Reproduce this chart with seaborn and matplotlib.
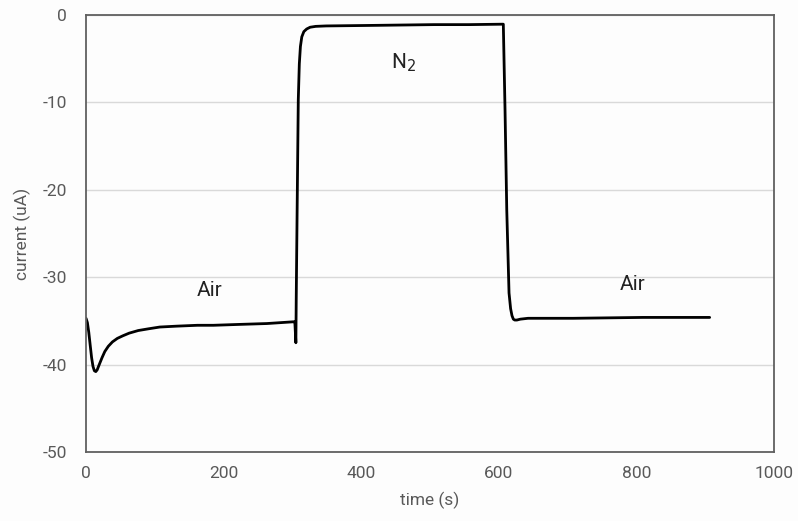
import pandas as pd
import matplotlib
matplotlib.use("Agg")
import matplotlib.pyplot as plt
import seaborn as sns

# values
time_s = [0, 2, 4, 6.1, 8.1, 10.1, 12.1, 14.2, 16.2, 19.2, 23.3, 27.3, 32.4, 38.4, 45.5,
          53.6, 62.7, 75.9, 91, 107.2, 131.5, 161.9, 185.1, 222.6, 263, 301.5, 303.5,
          305, 305.5, 307, 308.5, 310, 311.6, 313.6, 316.6, 320.7, 325.7, 333.8, 349,
          404.6, 455.2, 505.8, 556.4, 606.5, 609, 611.5, 614.8, 617.1, 619.1, 621.1,
          623.1, 626.2, 631.2, 642.4, 708.1, 809.3, 906.4]
current_ua = [-34.7, -35.2, -36.3, -37.8, -39.2, -40.2, -40.7, -40.8, -40.6, -40.0, -39.2,
              -38.5, -37.9, -37.4, -37.0, -36.7, -36.4, -36.1, -35.9, -35.7, -35.6, -35.5,
              -35.5, -35.4, -35.3, -35.1, -35.1, -37.5, -32.6, -21.0, -9.7, -5.6, -3.6,
              -2.5, -1.9, -1.6, -1.4, -1.3, -1.25, -1.2, -1.15, -1.1, -1.1, -1.05, -10.9,
              -22.3, -31.8, -33.6, -34.4, -34.8, -34.9, -34.9, -34.8, -34.7, -34.7,
              -34.6, -34.6]

labels = ["Air", "N$_2$", "Air"]
label_t = [180, 461, 794]
label_y = [-31.5, -5.5, -30.8]

df = pd.DataFrame({"time (s)": time_s, "current (uA)": current_ua})

sns.set_style("white")
plt.rcParams["font.family"] = ["Roboto", "DejaVu Sans"]
plt.rcParams["axes.unicode_minus"] = False

fig = plt.figure(figsize=(7.98, 5.21), dpi=100, facecolor="#fdfdfd")
ax = fig.add_axes([0.1078, 0.1324, 0.8622, 0.8388])
ax.set_facecolor("#fdfdfd")

sns.lineplot(data=df, x="time (s)", y="current (uA)", color="black", linewidth=2.0,
             sort=False, estimator=None, ax=ax)

for txt, tx, ty in zip(labels, label_t, label_y):
    ax.text(tx, ty, txt, ha="center", va="center", fontsize=15, color="#222222")

ax.set_xlim(0, 1000)
ax.set_ylim(-50, 0)
ax.set_xticks(range(0, 1001, 200))
ax.set_yticks(range(-50, 1, 10))
ax.yaxis.grid(True, color="#d9d9d9", linewidth=1.0)
ax.xaxis.grid(False)
ax.set_axisbelow(True)

for s in ax.spines.values():
    s.set_visible(True)
    s.set_color("#606060")
    s.set_linewidth(1.3)

ax.tick_params(axis="both", length=0, labelsize=12.5, labelcolor="#595959")
ax.tick_params(axis="y", pad=14)
ax.tick_params(axis="x", pad=10)
ax.set_xlabel("time (s)", fontsize=12.5, color="#595959", labelpad=8)
ax.set_ylabel("current (uA)", fontsize=12.5, color="#595959", labelpad=8)

fig.savefig("out.png", dpi=100, facecolor=fig.get_facecolor())
